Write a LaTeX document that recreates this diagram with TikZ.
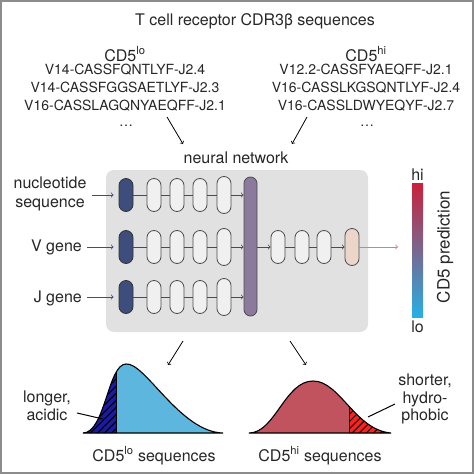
\documentclass[tikz,border=0pt]{standalone}
\usepackage{fontspec}
\setmainfont{TeX Gyre Heros}
\usepackage{tikz}
\usetikzlibrary{arrows,patterns.meta}
\definecolor{navy}{HTML}{3D4E7C}
\definecolor{pillgray}{HTML}{F0F0F0}
\definecolor{boxgray}{HTML}{E1E1E1}
\definecolor{mauve}{HTML}{8B7A9C}
\definecolor{peach}{HTML}{EBD6C9}
\definecolor{pinkarr}{HTML}{D27B9B}
\definecolor{barred}{HTML}{C9213B}
\definecolor{barmid}{HTML}{6F5F88}
\definecolor{barblue}{HTML}{27AFE4}
\definecolor{loblue}{HTML}{5CB6DD}
\definecolor{lodark}{HTML}{1B1B9B}
\definecolor{hirose}{HTML}{C0535D}
\definecolor{hired}{HTML}{FF2020}
\tikzset{
  lbl/.style={font=\fontsize{16}{19}\selectfont, inner sep=0pt, text=black!85},
  seq/.style={font=\fontsize{14}{18}\selectfont, inner sep=0pt, anchor=base, text=black!85},
  pill/.style={draw=black!70, line width=0.8pt, rounded corners=7pt, minimum width=14pt, minimum height=33pt, inner sep=0pt},
  inpill/.style={pill, fill=navy, draw=black!80},
  hidpill/.style={pill, fill=pillgray},
  wire/.style={black!70, line width=0.8pt},
  inarr/.style={navy, line width=0.8pt, shorten >=5pt, shorten <=5pt},
  hatch/.style={pattern={Lines[angle=45,distance=5pt,line width=1pt]}, pattern color=black}
}
\def\locurve{(83,433) .. controls (105,433) and (108,364) .. (126,364) .. controls (145,362) and (180,432) .. (223,433)}
\def\hicurve{(249,433) .. controls (275,433) and (285,381) .. (313,381) .. controls (340,381) and (355,430) .. (391,433)}

\begin{document}
\begin{tikzpicture}[x=1pt,y=-1pt,>=to]
\useasboundingbox (0,0) rectangle (474,474);
\draw[black!45, line width=2pt] (1,1) rectangle (473,473);

\node[lbl, anchor=base] (title) at (255,25) {T cell receptor CDR3β sequences};
\node[lbl, anchor=base] (lohead) at (125,61) {CD5\textsuperscript{lo}};
\node[lbl, anchor=base] (hihead) at (366,61) {CD5\textsuperscript{hi}};
\node[seq] (lo1) at (125,74) {V14-CASSFQNTLYF-J2.4};
\node[seq] (lo2) at (125,92) {V14-CASSFGGSAETLYF-J2.3};
\node[seq] (lo3) at (125,110) {V16-CASSLAGQNYAEQFF-J2.1};
\node[seq] (lodots) at (126,126) {\dots};
\node[seq] (hi1) at (366,74) {V12.2-CASSFYAEQFF-J2.1};
\node[seq] (hi2) at (366,92) {V16-CASSLKGSQNTLYF-J2.4};
\node[seq] (hi3) at (366,110) {V16-CASSLDWYEQYF-J2.7};
\node[seq] (hidots) at (367,126) {\dots};
\coordinate (loA) at (167,117);
\coordinate (loB) at (183,144);
\coordinate (hiA) at (307,117);
\coordinate (hiB) at (292,144);
\draw[->, line width=0.8pt] (loA) -- (loB);
\draw[->, line width=0.8pt] (hiA) -- (hiB);

\node[lbl, anchor=base] (nn) at (236,163) {neural network};
\fill[boxgray, rounded corners=8pt] (106,170) rectangle (368,332);

\node[lbl, align=center] (nuc) at (50,194) {nucleotide\\sequence};
\node[lbl, anchor=base east] (vg) at (82,251) {V gene};
\node[lbl, anchor=base east] (jg) at (82,302) {J gene};

\node[pill, fill=mauve, minimum width=13pt, minimum height=139pt, rounded corners=6.5pt] (merge) at (250.5,246.5) {};
\foreach \r/\y in {1/195,2/247,3/297}{
  \node[inpill] (in\r) at (126,\y) {};
  \foreach \i/\x in {1/154,2/177,3/200}
    \node[hidpill] (h\r\i) at (\x,\y) {};
  \node[hidpill, minimum height=37pt] (h\r4) at (224,\y) {};
  \draw[wire] (in\r) -- (h\r1) -- (h\r2) -- (h\r3) -- (h\r4);
  \draw[wire,->] (h\r4) -- (h\r4 -| merge.west);
}
\draw[inarr,->] (nuc.east |- in1) -- (in1);
\draw[inarr,->] (vg.east |- in2) -- (in2);
\draw[inarr,->] (jg.east |- in3) -- (in3);

\node[hidpill] (o1) at (278,247) {};
\node[hidpill] (o2) at (302,247) {};
\node[hidpill] (o3) at (324,247) {};
\node[pill, fill=peach, minimum height=37pt] (out) at (352,247) {};
\draw[wire,->] (merge.east |- o1) -- (o1);
\draw[wire] (o1) -- (o2) -- (o3);
\draw[wire,->] (o3) -- (out);
\coordinate (pred) at (398,247);
\draw[pinkarr, line width=0.8pt, ->] (out) -- (pred);

\node[minimum width=11pt, minimum height=134pt, inner sep=0pt, top color=barred, middle color=barmid, bottom color=barblue] (bar) at (417.5,250) {};
\node[lbl, anchor=base] (hilbl) at (417.5,180) {hi};
\node[lbl, anchor=base] (lolbl) at (417.5,332) {lo};
\node[lbl, font=\fontsize{17}{20}\selectfont, rotate=90] (cdp) at (445,247) {CD5 prediction};

\coordinate (loC) at (183,341);
\coordinate (loD) at (168,365);
\coordinate (hiC) at (290,341);
\coordinate (hiD) at (306,365);
\draw[->, line width=0.8pt] (loC) -- (loD);
\draw[->, line width=0.8pt] (hiC) -- (hiD);

\fill[loblue] \locurve -- cycle;
\begin{scope}
  \clip \locurve -- cycle;
  \fill[lodark] (80,340) rectangle (116,434);
  \fill[hatch] (80,340) rectangle (116,434);
  \draw[line width=1pt] (116,340) -- (116,434);
\end{scope}
\draw[line width=1.1pt] \locurve -- cycle;

\fill[hirose] \hicurve -- cycle;
\begin{scope}
  \clip \hicurve -- cycle;
  \fill[hired] (349,370) rectangle (395,434);
  \fill[hatch] (349,370) rectangle (395,434);
  \draw[line width=1pt] (349,370) -- (349,434);
\end{scope}
\draw[line width=1.1pt] \hicurve -- cycle;

\node[lbl, anchor=base] (longer) at (47,402) {longer,};
\node[lbl, anchor=base] (acidic) at (47,420) {acidic};
\node[lbl, anchor=base] (shorter) at (425,385) {shorter,};
\node[lbl, anchor=base] (hydro) at (425,403) {hydro-};
\node[lbl, anchor=base] (phobic) at (425,420) {phobic};
\coordinate (loE) at (77,413);
\coordinate (loF) at (103,419);
\coordinate (hiE) at (368,417);
\coordinate (hiF) at (395,404);
\draw[line width=1pt] (loE) -- (loF);
\draw[line width=1pt] (hiE) -- (hiF);

\node[lbl, anchor=base] (loseq) at (154,461) {CD5\textsuperscript{lo} sequences};
\node[lbl, anchor=base] (hiseq) at (320,461) {CD5\textsuperscript{hi} sequences};
\end{tikzpicture}
\end{document}
